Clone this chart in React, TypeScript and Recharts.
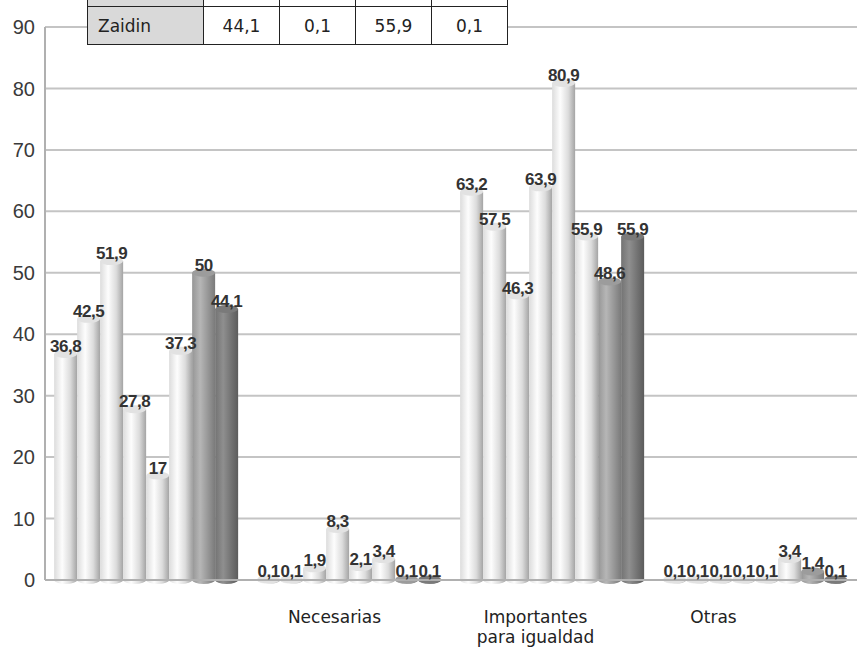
import React from "react"
import { BarChart, Bar, XAxis, YAxis, CartesianGrid, LabelList } from "recharts"

const categories = ["", "Necesarias", "Importantes para igualdad", "Otras"]
const districts = ["Albaicin", "Beiro", "Centro", "Chana", "Genil", "Norte", "Ronda", "Zaidin"]

// one array per category, values in district order
const primera = [36.8, 42.5, 51.9, 27.8, 17, 37.3, 50, 44.1]
const necesarias = [0.1, 0.1, 1.9, 8.3, 2.1, 3.4, 0.1, 0.1]
const importantes = [63.2, 57.5, 46.3, 63.9, 80.9, 55.9, 48.6, 55.9]
const otras = [0.1, 0.1, 0.1, 0.1, 0.1, 3.4, 1.4, 0.1]

const yTicks = [0, 10, 20, 30, 40, 50, 60, 70, 80, 90]

const values = [primera, necesarias, importantes, otras]
const data = categories.map((name, i) => {
  const row: Record<string, string | number> = { name }
  districts.forEach((d, j) => (row[d] = values[i][j]))
  return row
})
const zaidinRow = values.map((v) => v[7])

const light = { side: "#a4a4a4", mid: "#fdfdfd", edge: "#dcdcdc", top: "#e2e2e2" }
const tones = [
  light, light, light, light, light, light,
  { side: "#7a7a7a", mid: "#b6b6b6", edge: "#969696", top: "#9c9c9c" },
  { side: "#5c5c5c", mid: "#8f8f8f", edge: "#737373", top: "#7a7a7a" },
]

// the category captions in the source sit a little left of their bar groups
const captionShift = [0, -15, -17, -42]

const fmt = (v: number) => String(v).replace(".", ",")

function Cylinder(props: any) {
  const { x, y, width, height, idx } = props
  const ry = 4
  const t = tones[idx]
  const cx = x + width / 2
  const h = Math.max(height, 0)
  return (
    <g>
      <path
        d={`M${x},${y} L${x},${y + h} A${width / 2},${ry} 0 0 0 ${x + width},${y + h} L${x + width},${y} Z`}
        fill={`url(#cyl${idx})`}
      />
      <ellipse cx={cx} cy={y} rx={width / 2} ry={ry} fill={t.top} />
    </g>
  )
}

function CategoryTick(props: any) {
  const { x, y, payload, index } = props
  const label: string = payload.value
  const sp = label.indexOf(" ")
  const lines = label.length > 14 ? [label.slice(0, sp), label.slice(sp + 1)] : [label]
  const cx = x + captionShift[index]
  return (
    <text x={cx} y={y + 35} textAnchor="middle" fontFamily="DejaVu Sans" fontSize={17} fill="#222">
      {lines.map((l, i) => (
        <tspan key={i} x={cx} dy={i === 0 ? 0 : 20}>
          {l}
        </tspan>
      ))}
    </text>
  )
}

const cell: React.CSSProperties = {
  border: "1.5px solid #222",
  fontFamily: "DejaVu Sans",
  fontSize: 17,
  color: "#222",
  textAlign: "center",
  padding: 0,
}

export default function App() {
  return (
    <div style={{ position: "absolute", left: 0, top: 0, width: 857, height: 650, background: "#fff" }}>
      <BarChart
        width={857}
        height={650}
        data={data}
        margin={{ top: 27, right: 0, bottom: 0, left: 0 }}
        barCategoryGap="4.5%"
        barGap={0}
      >
        <defs>
          {tones.map((t, i) => (
            <linearGradient key={i} id={`cyl${i}`} x1="0" y1="0" x2="1" y2="0">
              <stop offset="0%" stopColor={t.edge} />
              <stop offset="35%" stopColor={t.mid} />
              <stop offset="70%" stopColor={t.edge} />
              <stop offset="100%" stopColor={t.side} />
            </linearGradient>
          ))}
        </defs>
        <CartesianGrid vertical={false} stroke="#c4c4c4" strokeWidth={2} />
        <XAxis
          dataKey="name"
          height={70}
          tick={<CategoryTick />}
          tickLine={false}
          axisLine={{ stroke: "#b0b0b0", strokeWidth: 2 }}
          interval={0}
        />
        <YAxis
          width={45}
          domain={[0, 90]}
          ticks={yTicks}
          tickLine={false}
          axisLine={{ stroke: "#b0b0b0", strokeWidth: 2 }}
          tick={{ fontFamily: "Liberation Sans", fontSize: 20, fill: "#3a3a3a" }}
          tickMargin={4}
        />
        {districts.map((d, i) => (
          <Bar key={d} dataKey={d} isAnimationActive={false} shape={(p: any) => <Cylinder {...p} idx={i} />}>
            <LabelList
              dataKey={d}
              position="top"
              offset={2}
              formatter={(v: any) => fmt(v)}
              style={{ fontFamily: "Liberation Sans", fontWeight: 700, fontSize: 17, fill: "#333", letterSpacing: -0.5 }}
            />
          </Bar>
        ))}
      </BarChart>
      <table
        style={{
          position: "absolute",
          left: 87,
          top: -32,
          width: 419,
          tableLayout: "fixed",
          borderCollapse: "collapse",
          background: "#fff",
        }}
      >
        <colgroup>
          <col style={{ width: 116 }} />
          {zaidinRow.map((_, i) => (
            <col key={i} style={{ width: 76 }} />
          ))}
        </colgroup>
        <tbody>
          <tr style={{ height: 38 }}>
            <td style={{ ...cell, background: "#d9d9d9" }}></td>
            {zaidinRow.map((_, i) => (
              <td key={i} style={cell}></td>
            ))}
          </tr>
          <tr style={{ height: 38 }}>
            <td style={{ ...cell, background: "#d9d9d9", textAlign: "left", paddingLeft: 10 }}>Zaidin</td>
            {zaidinRow.map((v, i) => (
              <td key={i} style={cell}>
                {fmt(v)}
              </td>
            ))}
          </tr>
        </tbody>
      </table>
    </div>
  )
}
